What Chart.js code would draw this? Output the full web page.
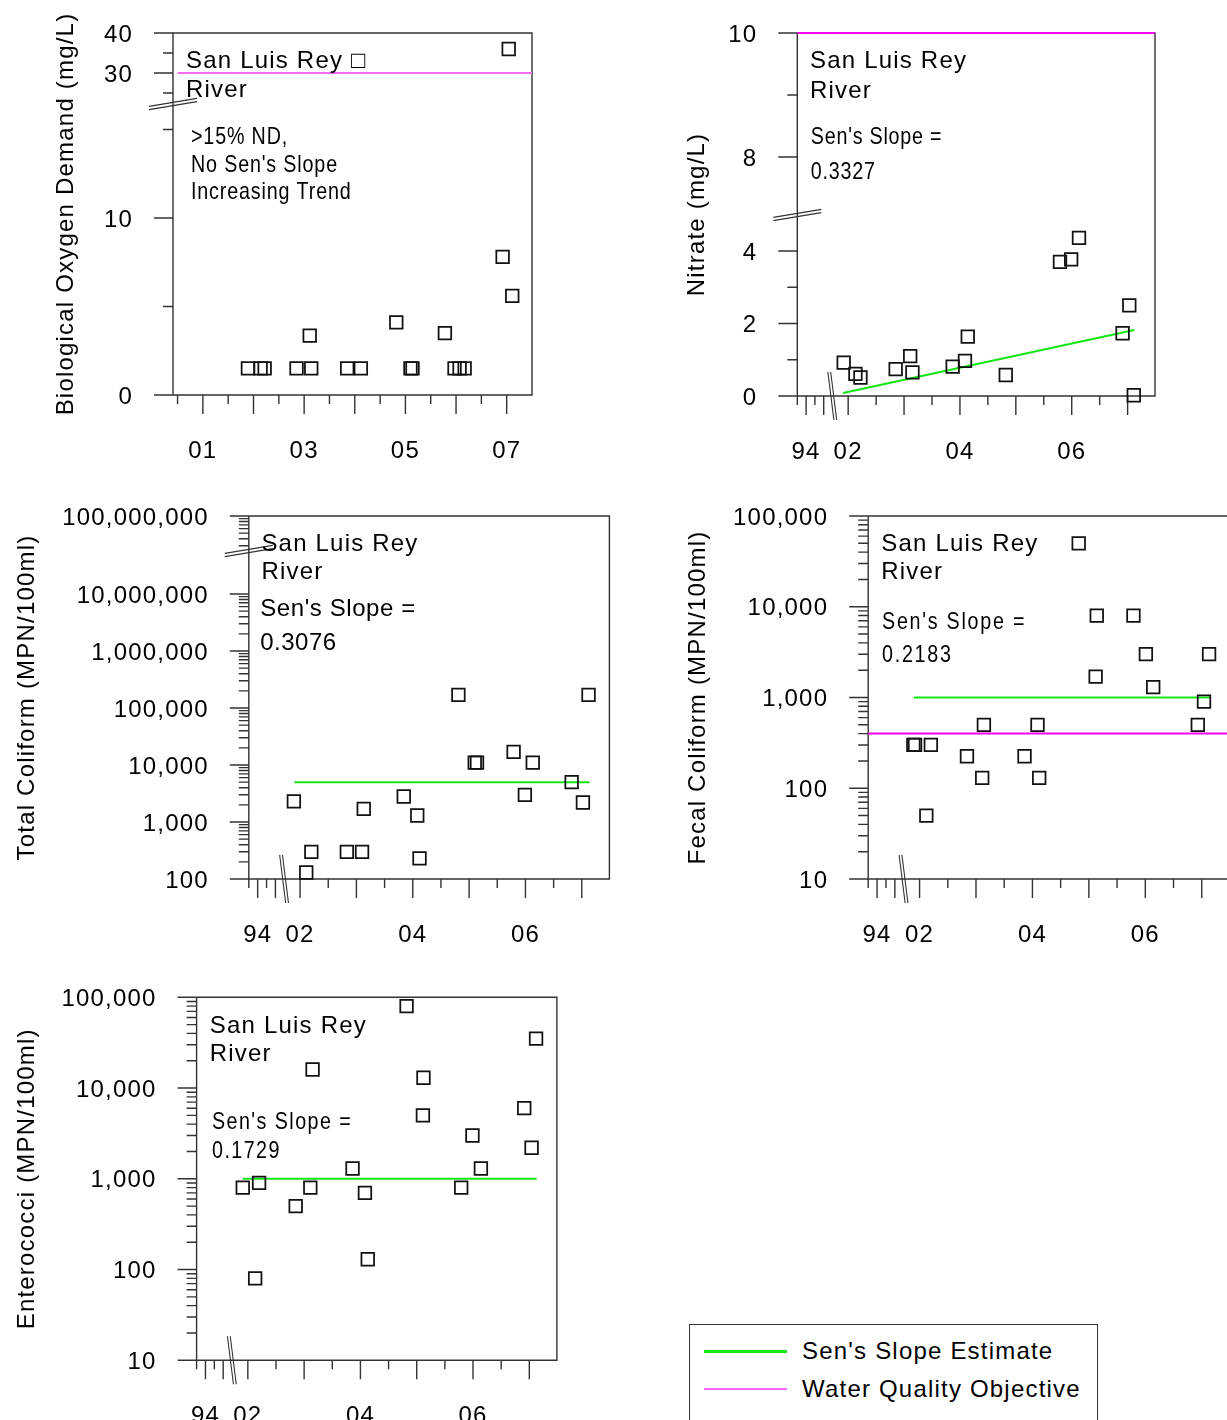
<!DOCTYPE html>
<html><head><meta charset="utf-8">
<script src="https://cdn.jsdelivr.net/npm/chart.js@4.4.1/dist/chart.umd.min.js"></script>
<style>
html,body{margin:0;padding:0;background:#fff;overflow:hidden;width:1227px;height:1420px;position:relative;}
canvas{position:absolute;}
.lg{position:absolute;font-family:'Liberation Sans',Arial,sans-serif;font-size:24px;line-height:28px;letter-spacing:1.2px;color:#000;white-space:nowrap;}
</style></head><body>
<div id="legendBox" style="position:absolute;left:689px;top:1324px;width:409px;height:200px;border:1.5px solid #333;box-sizing:border-box;"></div>
<div style="position:absolute;left:704px;top:1349.5px;width:83px;height:3px;background:#14e614;"></div>
<div style="position:absolute;left:704px;top:1388px;width:83px;height:1.5px;background:#ff66ff;"></div>
<div class="lg" style="left:802px;top:1337px;">Sen's Slope Estimate</div>
<div class="lg" style="left:802px;top:1375px;">Water Quality Objective</div>
<script>
// ================= DATA =================
// Biological Oxygen Demand (mg/L)
const bodYears  = [2001.89, 2002.14, 2002.22, 2002.85, 2003.14, 2003.11, 2003.85, 2004.12, 2004.82, 2005.10, 2005.14, 2005.78, 2005.97, 2006.07, 2006.17, 2006.92, 2007.04, 2007.11];
const bodValues = [1.5, 1.5, 1.5, 1.5, 1.5, 3.35, 1.5, 1.5, 4.1, 1.5, 1.5, 3.5, 1.5, 1.5, 1.5, 7.8, 36, 5.6];
const bodWqoYears  = [2000.5, 2007.5];
const bodWqoValues = [30, 30];
const bodYTickValues = [0, 5, 10, 15, 25, 30, 35, 40];
const bodYTickLabels = ['0', '', '10', '', '', '30', '', '40'];
const bodXTickYears  = [2000.5, 2001, 2001.5, 2002, 2002.5, 2003, 2003.5, 2004, 2004.5, 2005, 2005.5, 2006, 2006.5, 2007];
const bodXTickLabels = ['', '01', '', '', '', '03', '', '', '', '05', '', '', '', '07'];

// Nitrate (mg/L)
const nitrateYears  = [2001.92, 2002.13, 2002.22, 2002.85, 2003.11, 2003.15, 2003.87, 2004.09, 2004.14, 2004.82, 2005.79, 2005.99, 2006.13, 2006.91, 2007.03, 2007.11];
const nitrateValues = [0.92, 0.61, 0.51, 0.74, 1.10, 0.65, 0.81, 0.97, 1.64, 0.58, 3.70, 3.77, 4.36, 1.73, 2.50, 0.02];
const nitrateSenYears  = [2001.91, 2007.12];
const nitrateSenValues = [0.08, 1.82];
const nitrateWqoYears  = [2001.09, 2007.49];
const nitrateWqoValues = [10, 10];
const nitrateYTickValues = [0, 1, 2, 3, 4, 8, 9, 10];
const nitrateYTickLabels = ['0', '', '2', '', '4', '8', '', '10'];

// shared broken time axis (94 | 02 .. 07)
const brokenXTickYears  = [1993.5, 1994, 1994.5, 1995, 2002, 2002.5, 2003, 2003.5, 2004, 2004.5, 2005, 2005.5, 2006, 2006.5, 2007];
const brokenXTickLabels = ['', '94', '', '', '02', '', '', '', '04', '', '', '', '06', '', ''];

// Total Coliform (MPN/100ml)
const totalYears  = [2001.89, 2002.11, 2002.20, 2002.83, 2003.10, 2003.13, 2003.84, 2004.08, 2004.12, 2004.81, 2005.10, 2005.14, 2005.79, 2005.99, 2006.13, 2006.82, 2007.02, 2007.12];
const totalValues = [2300, 130, 300, 300, 300, 1700, 2800, 1300, 230, 170000, 11000, 11000, 17000, 3000, 11000, 5000, 2200, 170000];
const totalSenYears  = [2001.90, 2007.14];
const totalSenValues = [5000, 5000];
const totalYTickValues = [100, 1000, 10000, 100000, 1000000, 10000000, 100000000];
const totalYTickLabels = ['100', '1,000', '10,000', '100,000', '1,000,000', '10,000,000', '100,000,000'];

// Fecal Coliform (MPN/100ml)
const fecalYears  = [2001.89, 2001.92, 2002.12, 2002.20, 2002.84, 2003.11, 2003.14, 2003.86, 2004.09, 2004.12, 2004.82, 2005.12, 2005.14, 2005.79, 2006.01, 2006.14, 2006.93, 2007.04, 2007.13];
const fecalValues = [300, 300, 50, 300, 225, 130, 500, 225, 500, 130, 50000, 1700, 8000, 8000, 3000, 1300, 500, 900, 3000];
const fecalSenYears  = [2001.90, 2007.14];
const fecalSenValues = [1000, 1000];
const fecalWqoYears  = [2001.09, 2007.49];
const fecalWqoValues = [400, 400];

// Enterococci (MPN/100ml)
const enteroYears  = [2001.91, 2002.13, 2002.20, 2002.85, 2003.11, 2003.15, 2003.86, 2004.08, 2004.13, 2004.82, 2005.11, 2005.12, 2005.79, 2005.99, 2006.14, 2006.91, 2007.04, 2007.12];
const enteroValues = [800, 80, 900, 500, 800, 16000, 1300, 700, 130, 80000, 5000, 13000, 800, 3000, 1300, 6000, 2200, 35000];
const enteroSenYears  = [2001.91, 2007.13];
const enteroSenValues = [1000, 1000];

const logYTickValues = [10, 100, 1000, 10000, 100000];
const logYTickLabels = ['10', '100', '1,000', '10,000', '100,000'];

// ================= AXIS MAPPINGS (broken axes) =================
const BROKEN_X_MIN = 2001.09, BROKEN_X_MAX = 2007.49, EARLY_YEAR_SCALE = 0.315;
function brokenX(year) { return year < 1998 ? BROKEN_X_MIN + (year - 1993.5) * EARLY_YEAR_SCALE : year; }
function bodAxis(v) { return v <= 20 ? v : 18.192 + (v - 30) * 0.226; }
function nitrateAxis(v) { return v <= 6 ? v : 6.593 + (v - 8) * 1.7105; }
const TOTAL_GAP = 2.335;
function totalAxisUpper(v) { return v * TOTAL_GAP; }

// ================= STYLE =================
const AXIS = '#333';
const GREEN = '#14e614';
const REG = "24px 'Liberation Sans', Arial, sans-serif";
const NARROW_SCALE = 0.82;
Chart.defaults.font.family = "'Liberation Sans', Arial, sans-serif";
Chart.defaults.font.size = 24;
Chart.defaults.color = '#000';

function pts(xs, ys, fx, fy) { return xs.map((x, i) => ({x: fx(x), y: fy(ys[i])})); }
function squares(xs, ys, fx, fy) {
  return {data: pts(xs, ys, fx, fy), pointStyle: 'rect', pointRadius: 8.9, borderColor: '#111', borderWidth: 1.75,
          backgroundColor: 'rgba(0,0,0,0)', showLine: false, clip: false};
}
function line(xs, ys, fx, fy, color, w) {
  return {data: pts(xs, ys, fx, fy), showLine: true, borderColor: color, borderWidth: w, pointRadius: 0, clip: false};
}
const id = v => v;

function linTicks(vals, labels, f) { return vals.map((v, i) => ({value: f(v), label: labels[i], major: labels[i] !== ''})); }
function xTicks(years, labels, f) { return years.map((y, i) => ({value: f(y), label: labels[i], major: Number.isInteger(y)})); }
function logTicks(majors, labels, maxMinor) {
  const t = majors.map((v, i) => ({value: v, label: labels[i], major: true}));
  for (let i = 0; i < majors.length - 1; i++) for (let k = 2; k <= 9; k++) {
    const v = majors[i] * k; if (v <= maxMinor) t.push({value: v, label: '', major: false});
  }
  return t;
}
// Total coliform: lower segment up to the break, upper segment shifted by TOTAL_GAP
const totalTicks = logTicks(totalYTickValues.slice(0, 6), totalYTickLabels.slice(0, 6), 5.0e7)
  .concat([3e7, 4e7, 5e7, 6e7, 7e7, 8e7, 9e7].map(v => ({value: totalAxisUpper(v), label: '', major: false})))
  .concat([{value: totalAxisUpper(totalYTickValues[6]), label: totalYTickLabels[6], major: true}]);

const panels = [
  { x0: 0, y0: 0, w: 620, h: 480, L: 173, R: 532, T: 33, B: 395, titleC: 66,
    title: 'Biological Oxygen Demand (mg/L)', yType: 'linear', yMin: 0, yMax: bodAxis(40),
    xMin: 2000.41, xMax: 2007.5, yBreak: 16.44, xBreak: null,
    yTicks: linTicks(bodYTickValues, bodYTickLabels, bodAxis),
    xTicks: xTicks(bodXTickYears, bodXTickLabels, id),
    datasets: [squares(bodYears, bodValues, id, bodAxis), line(bodWqoYears, bodWqoValues, id, bodAxis, '#f36cf3', 1.8)],
    notes: [
      {t: 'San Luis Rey \u25A1', dx: 13, dy: 34.7, n: false, s: 1.2},
      {t: 'River', dx: 13, dy: 63.7, n: false, s: 1.2},
      {t: '>15% ND,', dx: 18, dy: 111, n: true, s: 0.85},
      {t: "No Sen's Slope", dx: 18, dy: 138.5, n: true, s: 0.85},
      {t: 'Increasing Trend', dx: 18, dy: 166, n: true, s: 0.85}]},
  { x0: 620, y0: 0, w: 607, h: 480, L: 797.3, R: 1155, T: 33, B: 396, titleC: 697,
    title: 'Nitrate (mg/L)', yType: 'linear', yMin: 0, yMax: nitrateAxis(10),
    xMin: BROKEN_X_MIN, xMax: BROKEN_X_MAX, yBreak: 4.993, xBreak: 2001.716,
    yTicks: linTicks(nitrateYTickValues, nitrateYTickLabels, nitrateAxis),
    xTicks: xTicks(brokenXTickYears, brokenXTickLabels, brokenX),
    datasets: [squares(nitrateYears, nitrateValues, id, nitrateAxis),
               line(nitrateSenYears, nitrateSenValues, id, nitrateAxis, GREEN, 2),
               line(nitrateWqoYears, nitrateWqoValues, id, nitrateAxis, '#ff00ff', 2)],
    notes: [
      {t: 'San Luis Rey', dx: 12.7, dy: 35.3, n: false, s: 1.2},
      {t: 'River', dx: 12.7, dy: 65.3, n: false, s: 1.2},
      {t: "Sen's Slope =", dx: 13.5, dy: 111, n: true, s: 0.77},
      {t: '0.3327', dx: 13.5, dy: 146, n: true, s: 0.77}]},
  { x0: 0, y0: 490, w: 625, h: 480, L: 248.8, R: 609.4, T: 516, B: 879, titleC: 27,
    title: 'Total Coliform (MPN/100ml)', yType: 'logarithmic', yMin: 100, yMax: totalAxisUpper(1e8),
    xMin: BROKEN_X_MIN, xMax: BROKEN_X_MAX, yBreak: 5.675e7, xBreak: 2001.716,
    yTicks: totalTicks,
    xTicks: xTicks(brokenXTickYears, brokenXTickLabels, brokenX),
    datasets: [squares(totalYears, totalValues, id, id), line(totalSenYears, totalSenValues, id, id, GREEN, 2)],
    notes: [
      {t: 'San Luis Rey', dx: 12.6, dy: 35, n: false, s: 1.2},
      {t: 'River', dx: 12.6, dy: 63.3, n: false, s: 1.2},
      {t: "Sen's Slope =", dx: 11.4, dy: 100, n: false, s: 0.58},
      {t: '0.3076', dx: 11.4, dy: 134, n: false, s: 0.5}]},
  { x0: 625, y0: 490, w: 615, h: 480, L: 868.2, R: 1229.4, T: 516, B: 879, titleC: 698,
    title: 'Fecal Coliform (MPN/100ml)', yType: 'logarithmic', yMin: 10, yMax: 100000,
    xMin: BROKEN_X_MIN, xMax: BROKEN_X_MAX, yBreak: null, xBreak: 2001.716,
    yTicks: logTicks(logYTickValues, logYTickLabels, 1e9),
    xTicks: xTicks(brokenXTickYears, brokenXTickLabels, brokenX),
    datasets: [squares(fecalYears, fecalValues, id, id), line(fecalSenYears, fecalSenValues, id, id, GREEN, 2),
               line(fecalWqoYears, fecalWqoValues, id, id, '#f000f0', 2)],
    notes: [
      {t: 'San Luis Rey', dx: 13.1, dy: 35, n: false, s: 1.2},
      {t: 'River', dx: 13.1, dy: 63.3, n: false, s: 1.2},
      {t: "Sen's Slope =", dx: 13.8, dy: 113.3, n: true, s: 1.75},
      {t: '0.2183', dx: 13.8, dy: 145.7, n: true, s: 1.75}]},
  { x0: 0, y0: 975, w: 625, h: 470, L: 196.6, R: 556.9, T: 997.3, B: 1360.3, titleC: 27,
    title: 'Enterococci (MPN/100ml)', yType: 'logarithmic', yMin: 10, yMax: 100000,
    xMin: BROKEN_X_MIN, xMax: BROKEN_X_MAX, yBreak: null, xBreak: 2001.716,
    yTicks: logTicks(logYTickValues, logYTickLabels, 1e9),
    xTicks: xTicks(brokenXTickYears, brokenXTickLabels, brokenX),
    datasets: [squares(enteroYears, enteroValues, id, id), line(enteroSenYears, enteroSenValues, id, id, GREEN, 2)],
    notes: [
      {t: 'San Luis Rey', dx: 13.2, dy: 35.4, n: false, s: 1.2},
      {t: 'River', dx: 13.2, dy: 63.7, n: false, s: 1.2},
      {t: "Sen's Slope =", dx: 15.4, dy: 132, n: true, s: 1.45},
      {t: '0.1729', dx: 15.4, dy: 161, n: true, s: 1.45}]}
];

function framePlugin(p) {
  return {
    id: 'frame',
    beforeDraw(chart) { chart.ctx.letterSpacing = '1.2px'; },
    beforeDatasetsDraw(chart) {
      const {ctx, chartArea: a, scales} = chart;
      const xs = scales.x, ys = scales.y;
      ctx.save();
      ctx.strokeStyle = AXIS; ctx.lineWidth = 1.4;
      ctx.beginPath();
      ctx.moveTo(a.left, a.top); ctx.lineTo(a.right, a.top); ctx.lineTo(a.right, a.bottom);
      ctx.lineTo(a.left, a.bottom); ctx.closePath();
      p.yTicks.forEach(t => { const py = ys.getPixelForValue(t.value); ctx.moveTo(a.left - (t.major ? 19 : 10), py); ctx.lineTo(a.left, py); });
      p.xTicks.forEach(t => { const px = xs.getPixelForValue(t.value); ctx.moveTo(px, a.bottom); ctx.lineTo(px, a.bottom + (t.major ? 19 : 9)); });
      ctx.stroke();
      ctx.lineWidth = 1.1;
      ctx.beginPath();
      if (p.yBreak != null) {
        const py = ys.getPixelForValue(p.yBreak);
        [-1.6, 1.6].forEach(o => { ctx.moveTo(a.left - 24, py + 4 + o); ctx.lineTo(a.left + 24, py - 4 + o); });
      }
      if (p.xBreak != null) {
        const px = xs.getPixelForValue(p.xBreak);
        [-1.4, 1.4].forEach(o => { ctx.moveTo(px + o - 3, a.bottom - 24); ctx.lineTo(px + o + 3, a.bottom + 24); });
      }
      ctx.stroke();
      ctx.restore();
    },
    afterDraw(chart) {
      const {ctx, chartArea: a} = chart;
      p.notes.forEach(n => {
        ctx.save();
        ctx.fillStyle = '#000'; ctx.textAlign = 'left'; ctx.textBaseline = 'alphabetic';
        ctx.font = REG;
        ctx.translate(a.left + n.dx, a.top + n.dy);
        if (n.n) { ctx.scale(NARROW_SCALE, 1); ctx.letterSpacing = (n.s / NARROW_SCALE) + 'px'; }
        else { ctx.letterSpacing = n.s + 'px'; }
        ctx.fillText(n.t, 0, 0);
        ctx.restore();
      });
    }
  };
}

function makePanel(p) {
  const c = document.createElement('canvas');
  c.width = p.w; c.height = p.h;
  c.style.left = p.x0 + 'px'; c.style.top = p.y0 + 'px';
  c.style.width = p.w + 'px'; c.style.height = p.h + 'px';
  document.body.appendChild(c);
  const yW = p.L - p.x0, xH = p.y0 + p.h - p.B;
  const gridX = {display: true, drawOnChartArea: false, drawTicks: true, tickLength: 36, tickColor: 'rgba(0,0,0,0)'};
  const gridY = {display: true, drawOnChartArea: false, drawTicks: true, tickLength: 38, tickColor: 'rgba(0,0,0,0)'};
  new Chart(c, {
    type: 'scatter',
    data: {datasets: p.datasets},
    options: {
      responsive: false, animation: false, events: [], devicePixelRatio: 1,
      layout: {autoPadding: false, padding: {left: 0, top: p.T - p.y0, right: p.x0 + p.w - p.R, bottom: 0}},
      plugins: {legend: {display: false}, tooltip: {enabled: false}},
      scales: {
        x: {type: 'linear', position: 'bottom', min: p.xMin, max: p.xMax, bounds: 'data',
            afterBuildTicks: s => { s.ticks = p.xTicks.map(t => ({value: t.value})); },
            afterFit: s => { s.height = xH; },
            ticks: {autoSkip: false, maxRotation: 0, minRotation: 0, padding: 6, color: '#000', font: {size: 24},
                    callback: (v, i) => p.xTicks[i] ? p.xTicks[i].label : ''},
            grid: gridX, border: {display: false}},
        y: {type: p.yType, position: 'left', min: p.yMin, max: p.yMax, bounds: 'data',
            afterBuildTicks: s => { s.ticks = p.yTicks.map(t => ({value: t.value})); },
            afterFit: s => { s.width = yW; },
            ticks: {autoSkip: false, padding: 2, labelOffset: 2, color: '#000', font: {size: 24},
                    callback: (v, i) => p.yTicks[i] ? p.yTicks[i].label : ''},
            title: {display: true, text: p.title, color: '#000', font: {size: 24},
                    padding: {top: p.titleC - p.x0 - 14.4, bottom: 0}},
            grid: gridY, border: {display: false}}
      }
    },
    plugins: [framePlugin(p)]
  });
}
panels.forEach(makePanel);
</script>
</body></html>
